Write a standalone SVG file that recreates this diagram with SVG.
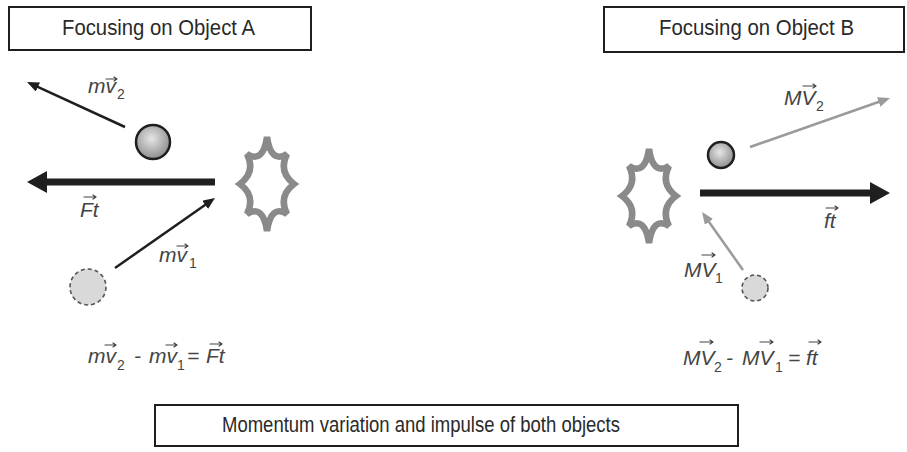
<svg xmlns="http://www.w3.org/2000/svg" width="907" height="452" viewBox="0 0 907 452">
  <style>
    .box { fill: #ffffff; stroke: #1e1e1e; stroke-width: 2; }
    .title { font-family: "Liberation Sans", Arial, sans-serif; font-size: 22px; fill: #2a2a2a; }
    .lbl { font-family: "Liberation Sans", Arial, sans-serif; font-size: 21px; font-style: italic; fill: #444444; }
    .sub { font-size: 14px; font-style: normal; }
    .vec { fill: none; stroke: #444444; stroke-width: 1.2; stroke-linecap: round; stroke-linejoin: round; }
    .dark { stroke: #1f1f1f; stroke-width: 2.5; fill: none; }
    .gray { stroke: #9a9a9a; stroke-width: 2.5; fill: none; }
    .thick { stroke: #1f1f1f; stroke-width: 7; fill: none; }
    .ball { fill: url(#ballFill); stroke: #1f1f1f; stroke-width: 2.5; }
    .ghost { fill: #d9d9d9; stroke: #555555; stroke-width: 1.6; stroke-dasharray: 4 3; }
    .burst { fill: #ffffff; stroke: #8a8a8a; stroke-width: 6.5; stroke-linejoin: miter; stroke-miterlimit: 3; }
  </style>
  <defs>
    <radialGradient id="ballFill" cx="0.45" cy="0.4" r="0.6">
      <stop offset="0" stop-color="#e6e6e6"/>
      <stop offset="1" stop-color="#8e8e8e"/>
    </radialGradient>
    <marker id="headDark" viewBox="0 0 12 10" refX="2" refY="5" markerWidth="12" markerHeight="10" markerUnits="userSpaceOnUse" orient="auto">
      <path d="M0,0 L12,5 L0,10 z" fill="#1f1f1f"/>
    </marker>
    <marker id="headGray" viewBox="0 0 12 10" refX="2" refY="5" markerWidth="12" markerHeight="10" markerUnits="userSpaceOnUse" orient="auto">
      <path d="M0,0 L12,5 L0,10 z" fill="#9a9a9a"/>
    </marker>
    <marker id="headBig" viewBox="0 0 20 22" refX="2" refY="11" markerWidth="20" markerHeight="22" markerUnits="userSpaceOnUse" orient="auto">
      <path d="M0,0 L20,11 L0,22 z" fill="#1f1f1f"/>
    </marker>
    <!-- eight-spike collision burst, centred on the origin -->
    <path id="burstShape" d="M0,-47 Q4,-20 20,-30 Q11,-12 27,0 Q11,12 20,30 Q4,20 0,47 Q-4,20 -20,30 Q-11,12 -27,0 Q-11,-12 -20,-30 Q-4,-20 0,-47 Z"/>
  </defs>

  <rect width="907" height="452" fill="#ffffff"/>

  <!-- heading boxes -->
  <g id="titleA">
    <rect class="box" x="9" y="7" width="302" height="43"/>
    <text class="title" x="62" y="35" textLength="193" lengthAdjust="spacingAndGlyphs">Focusing on Object A</text>
  </g>
  <g id="titleB">
    <rect class="box" x="604" y="7" width="300" height="45"/>
    <text class="title" x="659" y="35" textLength="195" lengthAdjust="spacingAndGlyphs">Focusing on Object B</text>
  </g>
  <g id="summary">
    <rect class="box" x="155" y="405" width="583" height="41"/>
    <text class="title" x="222" y="432" font-size="20" textLength="398" lengthAdjust="spacingAndGlyphs">Momentum variation and impulse of both objects</text>
  </g>

  <!-- bodies -->
  <g id="ballA2"><circle class="ball" cx="153" cy="142" r="17"/></g>
  <g id="ballA1"><circle class="ghost" cx="88" cy="287" r="18"/></g>
  <g id="burstA"><use href="#burstShape" class="burst" transform="translate(267,184)"/></g>
  <g id="ballB2"><circle class="ball" cx="721" cy="155" r="13"/></g>
  <g id="ballB1"><circle class="ghost" cx="755" cy="288" r="13"/></g>
  <g id="burstB"><use href="#burstShape" class="burst" transform="translate(649,196)"/></g>

  <!-- momentum and impulse arrows -->
  <g id="connectors">
    <line class="dark" x1="125" y1="127" x2="36.1" y2="86.2" marker-end="url(#headDark)"/>
    <line class="dark" x1="115" y1="268" x2="206.8" y2="203.7" marker-end="url(#headDark)"/>
    <line class="thick" x1="215" y1="182" x2="45" y2="182" marker-end="url(#headBig)"/>
    <line class="gray" x1="750" y1="147" x2="880.6" y2="101.3" marker-end="url(#headGray)"/>
    <line class="gray" x1="743" y1="270" x2="707.8" y2="220.2" marker-end="url(#headGray)"/>
    <line class="thick" x1="700" y1="193" x2="872" y2="193" marker-end="url(#headBig)"/>
  </g>

  <!-- vector labels -->
  <g id="labelA2">
    <text class="lbl" x="88" y="93">mv<tspan class="sub" x="117" y="99">2</tspan></text>
    <path class="vec" d="M106,79 H117 M114,77 L117,79 L114,81"/>
  </g>
  <g id="labelA1">
    <text class="lbl" x="159" y="262">mv<tspan class="sub" x="189" y="268">1</tspan></text>
    <path class="vec" d="M177,246 H188 M185,244 L188,246 L185,248"/>
  </g>
  <g id="labelFt">
    <text class="lbl" x="80" y="217">Ft</text>
    <path class="vec" d="M84,197 H96 M93,195 L96,197 L93,199"/>
  </g>
  <g id="labelB2">
    <text class="lbl" x="784" y="105">MV<tspan class="sub" x="816" y="111">2</tspan></text>
    <path class="vec" d="M803,86 H816 M813,84 L816,86 L813,88"/>
  </g>
  <g id="labelB1">
    <text class="lbl" x="684" y="277">MV<tspan class="sub" x="715" y="283">1</tspan></text>
    <path class="vec" d="M702,255 H715 M712,253 L715,255 L712,257"/>
  </g>
  <g id="labelft">
    <text class="lbl" x="824" y="228">ft</text>
    <path class="vec" d="M826,208 H838 M835,206 L838,208 L835,210"/>
  </g>

  <!-- momentum balance equations -->
  <g id="eqA">
    <text class="lbl" y="363"><tspan x="88">mv</tspan><tspan class="sub" x="117" y="370">2</tspan><tspan x="134" y="363">-</tspan><tspan x="149">mv</tspan><tspan class="sub" x="177" y="370">1</tspan><tspan x="187" y="363">=</tspan><tspan x="206">Ft</tspan></text>
    <path class="vec" d="M105,345 H116 M113,343 L116,345 L113,347"/>
    <path class="vec" d="M166,345 H177 M174,343 L177,345 L174,347"/>
    <path class="vec" d="M210,344 H222 M219,342 L222,344 L219,346"/>
  </g>
  <g id="eqB">
    <text class="lbl" y="365"><tspan x="683">MV</tspan><tspan class="sub" x="714" y="372">2</tspan><tspan x="726" y="365">-</tspan><tspan x="742">MV</tspan><tspan class="sub" x="775" y="372">1</tspan><tspan x="788" y="365">=</tspan><tspan x="806">ft</tspan></text>
    <path class="vec" d="M700,342 H713 M710,340 L713,342 L710,344"/>
    <path class="vec" d="M760,342 H773 M770,340 L773,342 L770,344"/>
    <path class="vec" d="M809,342 H821 M818,340 L821,342 L818,344"/>
  </g>
</svg>
